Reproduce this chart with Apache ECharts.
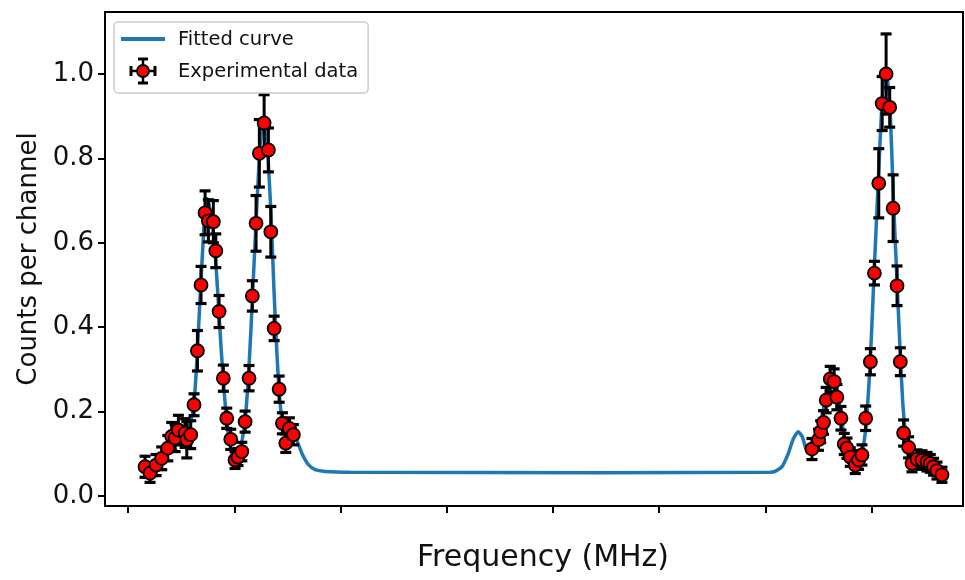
<!DOCTYPE html>
<html>
<head>
<meta charset="utf-8">
<script src="https://cdn.jsdelivr.net/npm/echarts@6.0.0/dist/echarts.min.js"></script>
<style>
  html, body { margin: 0; padding: 0; background: #fff; }
  #chart { width: 965px; height: 580px; }
</style>
</head>
<body>
<div id="chart"></div>
<script>
// measured points (frequency in arbitrary MHz offset, counts normalised)
var freq = [16.0, 20.7, 26.4, 31.7, 37.4, 41.1, 44.3, 47.4, 53.7, 55.3, 59.0, 62.1, 65.3, 68.7, 72.5, 75.6, 80.3, 82.6, 85.7, 89.7,
    92.9, 96.7, 100.7, 103.5, 107.1, 110.2, 113.9, 117.0, 120.5, 123.6, 128.1, 132.1, 134.4, 137.5, 142.2, 145.3, 148.5, 151.9, 155.6,
    643.8, 650.0, 652.0, 654.7, 657.2, 661.0, 664.7, 667.3, 671.1, 674.2, 676.8, 679.9, 684.6, 687.7, 690.9, 694.4, 698.8,
    702.6, 706.7, 709.9, 713.6, 717.0, 720.2, 723.9, 727.0, 730.1, 734.8, 738.0, 742.7, 747.4, 752.1, 755.2, 758.3, 761.5, 766.2];
var counts = [0.069, 0.054, 0.073, 0.089, 0.113, 0.141, 0.137, 0.156, 0.149, 0.133, 0.145, 0.216, 0.344, 0.500, 0.671, 0.652, 0.650, 0.581, 0.437, 0.279,
    0.184, 0.134, 0.085, 0.092, 0.105, 0.176, 0.279, 0.474, 0.646, 0.812, 0.884, 0.820, 0.626, 0.397, 0.253, 0.172, 0.125, 0.160, 0.145,
    0.111, 0.133, 0.152, 0.174, 0.227, 0.277, 0.271, 0.234, 0.184, 0.123, 0.113, 0.092, 0.073, 0.085, 0.097, 0.184, 0.318,
    0.528, 0.741, 0.930, 1.000, 0.921, 0.682, 0.498, 0.318, 0.149, 0.115, 0.077, 0.087, 0.085, 0.081, 0.077, 0.069, 0.060, 0.050];
var errors = [0.025, 0.022, 0.025, 0.027, 0.030, 0.033, 0.032, 0.035, 0.034, 0.043, 0.033, 0.026, 0.048, 0.044, 0.052, 0.050, 0.050, 0.040, 0.038, 0.031,
    0.024, 0.024, 0.020, 0.020, 0.022, 0.025, 0.030, 0.036, 0.066, 0.080, 0.067, 0.052, 0.060, 0.029, 0.031, 0.025, 0.022, 0.025, 0.024,
    0.025, 0.025, 0.026, 0.028, 0.030, 0.030, 0.030, 0.030, 0.028, 0.025, 0.024, 0.022, 0.020, 0.022, 0.024, 0.029, 0.031,
    0.028, 0.082, 0.064, 0.095, 0.047, 0.079, 0.047, 0.033, 0.031, 0.025, 0.020, 0.022, 0.022, 0.022, 0.021, 0.020, 0.020, 0.018];

// fitted curve
var curveFreq = [11.3, 20.7, 30.1, 39.5, 49.0, 54.6, 58.4, 62.1, 65.0, 67.8, 70.6, 72.5, 74.4, 76.3, 79.1, 81.9, 84.7, 87.6, 90.4, 93.2,
    96.0, 98.9, 101.7, 104.5, 107.3, 110.2, 113.0, 115.8, 118.6, 121.5, 124.3, 127.1, 129.0, 131.8, 134.7, 137.5, 140.3, 143.1, 146.0,
    149.7, 154.4, 159.1, 163.8, 169.5, 176.1, 185.5, 209.0, 444.4, 604.5, 609.2, 615.8, 621.5, 626.2, 630.9, 634.7, 638.4, 642.2,
    646.0, 649.8, 653.5, 657.3, 661.0, 663.9, 666.7, 670.5, 674.2, 678.0, 681.8, 685.5, 689.3, 693.0, 695.8, 698.7, 701.5, 704.3,
    707.2, 710.0, 712.8, 715.2, 717.5, 720.4, 723.7, 726.5, 729.3, 732.2, 735.0, 737.8, 741.1, 750.5, 759.9, 769.3];
var curveCounts = [0.062, 0.068, 0.085, 0.110, 0.130, 0.150, 0.170, 0.220, 0.330, 0.470, 0.600, 0.680, 0.705, 0.690, 0.650, 0.580, 0.470, 0.350, 0.250, 0.170,
    0.120, 0.095, 0.090, 0.100, 0.130, 0.180, 0.270, 0.400, 0.550, 0.700, 0.830, 0.890, 0.880, 0.800, 0.660, 0.480, 0.330, 0.220, 0.170,
    0.150, 0.145, 0.130, 0.100, 0.075, 0.062, 0.058, 0.056, 0.055, 0.056, 0.058, 0.070, 0.100, 0.135, 0.152, 0.140, 0.110, 0.100,
    0.120, 0.150, 0.190, 0.240, 0.275, 0.280, 0.260, 0.200, 0.140, 0.100, 0.085, 0.080, 0.090, 0.130, 0.200, 0.320, 0.480, 0.640,
    0.800, 0.940, 1.010, 0.980, 0.910, 0.710, 0.520, 0.360, 0.220, 0.140, 0.100, 0.085, 0.075, 0.068, 0.062, 0.055];

var xTicks = [0, 100, 200, 300, 400, 500, 600, 700];
var yTicks = [0, 0.2, 0.4, 0.6, 0.8, 1.0];

var points = [], curve = [], bars = [];
for (var i = 0; i < freq.length; i++) {
    points.push([freq[i], counts[i]]);
    bars.push([freq[i], counts[i] - errors[i], counts[i] + errors[i]]);
}
for (var i = 0; i < curveFreq.length; i++) {
    curve.push([curveFreq[i], curveCounts[i]]);
}

var font = 'DejaVu Sans';
var blue = '#1f77b4';
var myChart = echarts.init(document.getElementById('chart'));

// legend icons are drawn by hand (matplotlib style), legend only lays out the text
function legendIcons() {
    var z = 100;
    var thick = { stroke: '#000', lineWidth: 3 };
    var thin = { stroke: '#000', lineWidth: 2.5 };
    var cx = 143, cy = 71;
    return [
        { type: 'line', z: z, shape: { x1: 121, y1: 39, x2: 165, y2: 39 }, style: { stroke: blue, lineWidth: 4 } },
        { type: 'line', z: z, shape: { x1: cx, y1: cy - 12, x2: cx, y2: cy + 12 }, style: thin },
        { type: 'line', z: z, shape: { x1: cx - 5, y1: cy - 12, x2: cx + 5, y2: cy - 12 }, style: thick },
        { type: 'line', z: z, shape: { x1: cx - 5, y1: cy + 12, x2: cx + 5, y2: cy + 12 }, style: thick },
        { type: 'line', z: z, shape: { x1: cx - 12, y1: cy, x2: cx + 12, y2: cy }, style: thin },
        { type: 'line', z: z, shape: { x1: cx - 12, y1: cy - 5, x2: cx - 12, y2: cy + 5 }, style: thick },
        { type: 'line', z: z, shape: { x1: cx + 12, y1: cy - 5, x2: cx + 12, y2: cy + 5 }, style: thick },
        { type: 'circle', z: z + 1, shape: { cx: cx, cy: cy, r: 6 }, style: { fill: '#ff0000', stroke: '#000', lineWidth: 1.8 } }
    ];
}

var option = {
    animation: false,
    backgroundColor: '#fff',
    grid: {
        left: 105, right: 2, top: 12, bottom: 74,
        show: true, borderColor: '#000', borderWidth: 2
    },
    legend: {
        left: 114, top: 22,
        orient: 'vertical',
        padding: [8, 10, 11, 7],
        itemWidth: 44, itemHeight: 14, itemGap: 12,
        backgroundColor: '#fff',
        borderColor: '#cccccc', borderWidth: 1.5, borderRadius: 4,
        textStyle: { fontFamily: font, fontSize: 19.5, color: '#111', lineHeight: 20, padding: [0, 0, 0, 8] },
        data: [
            { name: 'Fitted curve', icon: 'rect', itemStyle: { opacity: 0 }, lineStyle: { opacity: 0 } },
            { name: 'Experimental data', icon: 'circle', itemStyle: { opacity: 0 } }
        ]
    },
    xAxis: {
        type: 'value',
        min: -21.7, max: 786,
        name: 'Frequency (MHz)',
        nameLocation: 'middle',
        nameGap: 37,
        nameTextStyle: { fontFamily: font, fontSize: 30, color: '#111', padding: [0, 0, 0, 18] },
        axisLine: { onZero: false, lineStyle: { color: '#000', width: 2 } },
        axisTick: { show: true, length: 7, customValues: xTicks, lineStyle: { color: '#000', width: 2 } },
        axisLabel: { show: false },
        splitLine: { show: false }
    },
    yAxis: {
        type: 'value',
        min: -0.024, max: 1.147,
        name: 'Counts per channel',
        nameLocation: 'middle',
        nameGap: 60,
        nameTextStyle: { fontFamily: font, fontSize: 26, color: '#111' },
        axisLine: { show: true, onZero: false, lineStyle: { color: '#000', width: 2 } },
        axisTick: { show: true, length: 7, customValues: yTicks, lineStyle: { color: '#000', width: 2 } },
        axisLabel: {
            customValues: yTicks, margin: 11,
            fontFamily: font, fontSize: 26, color: '#111',
            formatter: function (v) { return v.toFixed(1); }
        },
        splitLine: { show: false }
    },
    series: [
        {
            name: 'Fitted curve',
            type: 'line',
            data: curve,
            symbol: 'none',
            smooth: 0.2,
            lineStyle: { color: blue, width: 3.5 },
            itemStyle: { color: blue },
            z: 2
        },
        {
            name: 'errbars',
            type: 'custom',
            data: bars,
            z: 3,
            renderItem: function (params, api) {
                var lo = api.coord([api.value(0), api.value(1)]);
                var hi = api.coord([api.value(0), api.value(2)]);
                var w = 5.5;
                var cap = { stroke: '#000', lineWidth: 3.2 };
                return {
                    type: 'group',
                    children: [
                        { type: 'line', shape: { x1: lo[0], y1: lo[1], x2: hi[0], y2: hi[1] }, style: { stroke: '#000', lineWidth: 3 } },
                        { type: 'line', shape: { x1: lo[0] - w, y1: lo[1], x2: lo[0] + w, y2: lo[1] }, style: cap },
                        { type: 'line', shape: { x1: hi[0] - w, y1: hi[1], x2: hi[0] + w, y2: hi[1] }, style: cap }
                    ]
                };
            }
        },
        {
            name: 'Experimental data',
            type: 'scatter',
            data: points,
            symbolSize: 13,
            itemStyle: { color: '#ff0000', borderColor: '#000', borderWidth: 1.8, opacity: 1 },
            z: 4
        }
    ],
    graphic: legendIcons()
};

myChart.setOption(option);
</script>
</body>
</html>
